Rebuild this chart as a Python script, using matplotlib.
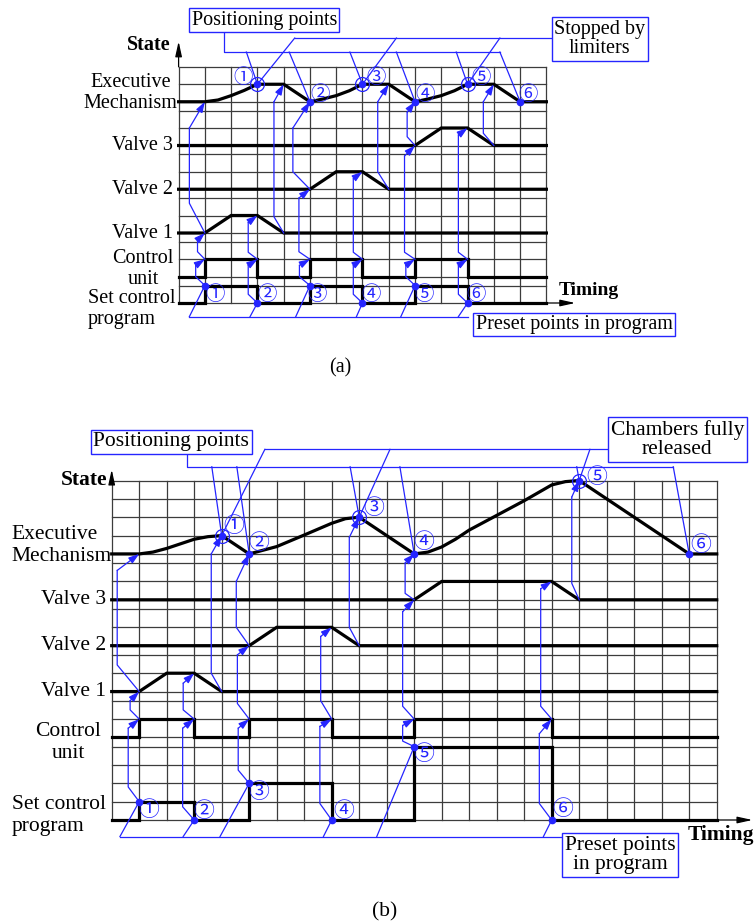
import matplotlib
matplotlib.use('Agg')
import matplotlib.pyplot as plt

plt.rcParams['font.family'] = ['Liberation Serif', 'Noto Sans CJK JP', 'DejaVu Sans']

BLUE = '#2525ff'
GRID = '#3c3c3c'
NUMS = ['\u2460', '\u2461', '\u2462', '\u2463', '\u2464', '\u2465']

# ---------------- panel (a) ----------------
a_ncols = 14
a_rows = [0, 1, 1.5, 2.5, 3.5, 4, 5, 6, 6.5, 7.5, 8.5, 9, 10, 11, 11.5, 12.5, 13.5]

a_exec_x = [0, 1, 1.5, 2, 2.5, 3, 4, 5, 5.5, 6, 6.5, 7, 8, 9, 9.5, 10, 10.5, 11, 12, 13, 14]
a_exec_y = [11.5, 11.5, 11.6, 11.85, 12.15, 12.5, 12.5, 11.5, 11.66, 11.85, 12.13, 12.5, 12.5,
            11.5, 11.66, 11.85, 12.13, 12.5, 12.5, 11.5, 11.5]
a_v3_x = [0, 9, 10, 11, 12, 14]
a_v3_y = [9, 9, 10, 10, 9, 9]
a_v2_x = [0, 5, 6, 7, 8, 14]
a_v2_y = [6.5, 6.5, 7.5, 7.5, 6.5, 6.5]
a_v1_x = [0, 1, 2, 3, 4, 14]
a_v1_y = [4, 4, 5, 5, 4, 4]
a_cu_x = [0, 1, 1, 3, 3, 5, 5, 7, 7, 9, 9, 11, 11, 14]
a_cu_y = [1.5, 1.5, 2.5, 2.5, 1.5, 1.5, 2.5, 2.5, 1.5, 1.5, 2.5, 2.5, 1.5, 1.5]
a_set_x = [0, 1, 1, 3, 3, 5, 5, 7, 7, 9, 9, 11, 11, 14]
a_set_y = [0, 0, 1, 1, 0, 0, 1, 1, 0, 0, 1, 1, 0, 0]

a_pos_x = [3, 5, 7, 9, 11, 13]
a_pos_y = [12.5, 11.5, 12.5, 11.5, 12.5, 11.5]
a_pos_lx = [2.47, 5.37, 7.5, 9.37, 11.5, 13.3]
a_pos_ly = [12.9, 11.9, 12.9, 11.9, 12.9, 11.9]
a_pos_from = [2.58, 4.21, 6.52, 8.29, 10.57, 12.23]
a_lim_from = [4.42, 8.29, 12.23]

a_pre_x = [1, 3, 5, 7, 9, 11]
a_pre_y = [1, 0, 1, 0, 1, 0]
a_pre_lx = [1.38, 3.36, 5.28, 7.33, 9.33, 11.33]
a_pre_ly = [0.5, 0.5, 0.5, 0.5, 0.5, 0.5]
a_pre_from = [0.41, 2.72, 4.46, 6.77, 8.46, 10.65]

a_chains = [
    [(1, 1), (0.65, 1.5), (0.65, 2.15), (1, 2.5)],
    [(1, 2.5), (0.72, 2.93), (0.72, 3.6), (1, 4)],
    [(1, 4), (0.41, 5.7), (0.41, 10), (1, 11.5)],
    [(3, 0), (2.65, 0.5), (2.65, 2.15), (3, 2.5)],
    [(3, 2.5), (2.65, 2.9), (2.65, 4.6), (3, 5)],
    [(4, 4), (3.63, 4.93), (3.63, 11.5), (4, 12.5)],
    [(5, 1), (4.6, 1.5), (4.6, 2.15), (5, 2.5)],
    [(5, 2.5), (4.58, 2.93), (4.58, 6.0), (5, 6.5)],
    [(5, 6.5), (4.35, 7.5), (4.35, 10), (5, 11.5)],
    [(7, 0), (6.65, 0.5), (6.65, 2.15), (7, 2.5)],
    [(7, 2.5), (6.65, 2.9), (6.65, 7.1), (7, 7.5)],
    [(8, 6.5), (7.58, 7.5), (7.58, 11.5), (8, 12.5)],
    [(9, 1), (8.65, 1.5), (8.65, 2.15), (9, 2.5)],
    [(9, 2.5), (8.6, 2.9), (8.6, 8.4), (9, 9)],
    [(9, 9), (8.7, 9.5), (8.7, 10.9), (9, 11.5)],
    [(11, 0), (10.65, 0.5), (10.65, 2.15), (11, 2.5)],
    [(11, 2.5), (10.65, 2.9), (10.65, 9.6), (11, 10)],
    [(12, 9), (11.6, 9.7), (11.6, 11.5), (12, 12.5)],
]

# ---------------- panel (b) ----------------
b_ncols = 22
b_rows = [0, 1, 2, 3, 4, 4.5, 5.5, 6.5, 7, 8, 9, 9.5, 10.5, 11.5, 12, 13, 14, 14.5,
          15.5, 16.5, 17.5, 18.5]

b_exec_x = [0, 1, 1.5, 2, 3, 3.5, 4, 5, 6, 7, 8, 8.5, 9, 11, 11.5, 12, 12.5, 13, 14, 15, 16,
            16.5, 17, 21, 22]
b_exec_y = [14.5, 14.5, 14.6, 14.8, 15.3, 15.44, 15.5, 14.5, 14.9, 15.53, 16.17, 16.42, 16.5,
            14.5, 14.6, 14.88, 15.3, 15.8, 16.6, 17.4, 18.26, 18.44, 18.5, 14.5, 14.5]
b_v3_x = [0, 11, 12, 16, 17, 22]
b_v3_y = [12, 12, 13, 13, 12, 12]
b_v2_x = [0, 5, 6, 8, 9, 22]
b_v2_y = [9.5, 9.5, 10.5, 10.5, 9.5, 9.5]
b_v1_x = [0, 1, 2, 3, 4, 22]
b_v1_y = [7, 7, 8, 8, 7, 7]
b_cu_x = [0, 1, 1, 3, 3, 5, 5, 8, 8, 11, 11, 16, 16, 22]
b_cu_y = [4.5, 4.5, 5.5, 5.5, 4.5, 4.5, 5.5, 5.5, 4.5, 4.5, 5.5, 5.5, 4.5, 4.5]
b_set_x = [0, 1, 1, 3, 3, 5, 5, 8, 8, 11, 11, 16, 16, 22]
b_set_y = [0, 0, 1, 1, 0, 0, 2, 2, 0, 0, 4, 4, 0, 0]

b_pos_x = [4, 5, 9, 11, 17, 21]
b_pos_y = [15.5, 14.5, 16.5, 14.5, 18.5, 14.5]
b_pos_lx = [4.45, 5.36, 9.52, 11.34, 17.64, 21.42]
b_pos_ly = [15.95, 15.04, 16.93, 15.08, 18.62, 14.95]
b_pos_from = [3.64, 4.55, 8.67, 10.48, 16.91, 20.42]
b_lim_from = [5.57, 10.12, 17.39]

b_pre_x = [1, 3, 5, 8, 11, 16]
b_pre_y = [1, 0, 2, 0, 4, 0]
b_pre_lx = [1.34, 3.36, 5.36, 8.45, 11.36, 16.39]
b_pre_ly = [0.51, 0.42, 1.49, 0.45, 3.54, 0.54]
b_pre_from = [0.3, 2.6, 3.94, 7.7, 9.64, 15.7]

b_chains = [
    [(1, 1), (0.6, 1.8), (0.6, 5.0), (1, 5.5)],
    [(1, 5.5), (0.67, 6.0), (0.67, 6.5), (1, 7)],
    [(1, 7), (0.2, 8.45), (0.2, 13.6), (1, 14.5)],
    [(3, 0), (2.58, 0.72), (2.58, 5.0), (3, 5.5)],
    [(3, 5.5), (2.6, 6.0), (2.6, 7.45), (3, 8)],
    [(4, 7), (3.62, 8.0), (3.62, 14.5), (4, 15.5)],
    [(5, 2), (4.6, 2.72), (4.6, 5.0), (5, 5.5)],
    [(5, 5.5), (4.57, 6.35), (4.57, 9.0), (5, 9.5)],
    [(5, 9.5), (4.53, 10.5), (4.53, 13.0), (5, 14.5)],
    [(8, 0), (7.57, 0.9), (7.57, 5.1), (8, 5.5)],
    [(8, 5.5), (7.6, 6.5), (7.6, 10.0), (8, 10.5)],
    [(9, 9.5), (8.64, 10.5), (8.64, 15.4), (9, 16.5)],
    [(11, 4), (10.58, 4.3), (10.58, 5.15), (11, 5.5)],
    [(11, 5.5), (10.58, 6.2), (10.58, 11.35), (11, 12)],
    [(11, 12), (10.67, 12.35), (10.67, 14.0), (11, 14.5)],
    [(16, 0), (15.55, 0.9), (15.55, 4.7), (16, 5.5)],
    [(16, 5.5), (15.6, 6.2), (15.6, 12.6), (16, 13)],
    [(17, 12), (16.73, 12.9), (16.73, 17.6), (17, 18.5)],
]


def grid(ax, ncols, rows):
    top = rows[-1]
    for c in range(ncols + 1):
        ax.plot([c, c], [0, top], color=GRID, lw=0.9, zorder=1)
    for r in rows:
        ax.plot([0, ncols], [r, r], color=GRID, lw=0.9, zorder=1)


def trace(ax, xs, ys):
    ax.plot(xs, ys, color='black', lw=2.3, zorder=3, solid_joinstyle='miter')


def chain(ax, pts):
    xs = [p[0] for p in pts]
    ys = [p[1] for p in pts]
    ax.plot(xs[:-1], ys[:-1], color=BLUE, lw=0.9, zorder=4)
    ax.annotate('', xy=pts[-1], xytext=pts[-2], zorder=4,
                arrowprops=dict(arrowstyle='-|>,head_length=0.9,head_width=0.3',
                                mutation_scale=7, color=BLUE, lw=0.9,
                                shrinkA=0, shrinkB=0))


def arrow(ax, start, end):
    ax.annotate('', xy=end, xytext=start,
                arrowprops=dict(arrowstyle='-|>,head_length=1.0,head_width=0.22',
                                mutation_scale=9, color='black', lw=0.9,
                                shrinkA=0, shrinkB=0))


def box(ax, x, y, s, fs):
    ax.text(x, y, s, ha='center', va='center', fontsize=fs, zorder=6,
            linespacing=1.05,
            bbox=dict(boxstyle='square,pad=0.12', fc='white', ec=BLUE, lw=1.0))


def points(ax, xs, ys, lx, ly, rings, fs):
    ax.plot(xs, ys, 'o', color=BLUE, ms=4.5, zorder=5)
    for i in rings:
        ax.plot(xs[i], ys[i], 'o', mfc='none', mec=BLUE, ms=10, mew=0.9, zorder=5)
    for i in range(len(xs)):
        ax.text(lx[i], ly[i], NUMS[i], color=BLUE, fontsize=fs, ha='center',
                va='center', zorder=5)


fig = plt.figure(figsize=(7.56, 9.24), dpi=100)

# ---------- (a) ----------
ax = fig.add_axes([0, 539 / 924, 1, 385 / 924])
ax.set_xlim(-178.6 / 26.27, (756 - 178.6) / 26.27)
ax.set_ylim((303 - 385) / 17.5, 303 / 17.5)
ax.axis('off')

grid(ax, a_ncols, a_rows)
for xs, ys in [(a_exec_x, a_exec_y), (a_v3_x, a_v3_y), (a_v2_x, a_v2_y),
               (a_v1_x, a_v1_y), (a_cu_x, a_cu_y), (a_set_x, a_set_y)]:
    trace(ax, xs, ys)
arrow(ax, (a_ncols, 0), (15.1, 0))
arrow(ax, (0, a_rows[-1]), (0, 14.95))
for c in a_chains:
    chain(ax, c)

# callouts
ax.plot([1.71, 1.71, 12.23], [15.49, 14.34, 14.34], color=BLUE, lw=0.9, zorder=4)
for fx, px, py in zip(a_pos_from, a_pos_x, a_pos_y):
    ax.plot([fx, px], [14.34, py], color=BLUE, lw=0.9, zorder=4)
ax.plot([4.42, 14.27], [15.14, 15.14], color=BLUE, lw=0.9, zorder=4)
for fx, i in zip(a_lim_from, [0, 2, 4]):
    ax.plot([fx, a_pos_x[i]], [15.14, a_pos_y[i]], color=BLUE, lw=0.9, zorder=4)
ax.plot([0.41, 11], [-0.78, -0.78], color=BLUE, lw=0.9, zorder=4)
for fx, px, py in zip(a_pre_from, a_pre_x, a_pre_y):
    ax.plot([fx, px], [-0.78, py], color=BLUE, lw=0.9, zorder=4)

points(ax, a_pos_x, a_pos_y, a_pos_lx, a_pos_ly, [0, 2, 4], 14)
points(ax, a_pre_x, a_pre_y, a_pre_lx, a_pre_ly, [], 14)

box(ax, 3.26, 16.17, 'Positioning points', 14.5)
box(ax, 16.03, 15.09, 'Stopped by\nlimiters', 14.5)
box(ax, 15.05, -1.23, 'Preset points in program', 14.5)

ax.text(-0.05, 12.0, 'Executive\nMechanism', ha='right', va='center', fontsize=14.5,
        multialignment='center')
ax.text(-0.2, 9, 'Valve 3', ha='right', va='center', fontsize=14.5)
ax.text(-0.2, 6.5, 'Valve 2', ha='right', va='center', fontsize=14.5)
ax.text(-0.2, 4, 'Valve 1', ha='right', va='center', fontsize=14.5)
ax.text(-1.35, 1.94, 'Control\nunit', ha='center', va='center', fontsize=14.5)
ax.text(-3.45, -0.34, 'Set control\nprogram', ha='left', va='center', fontsize=14.5)
ax.text(-0.3, 14.74, 'State', ha='right', va='center', fontsize=14.5, fontweight='bold')
ax.text(15.6, 0.74, 'Timing', ha='center', va='center', fontsize=14, fontweight='bold')
ax.text(6.14, -3.71, '(a)', ha='center', va='center', fontsize=14.5)

# ---------- (b) ----------
ax = fig.add_axes([0, 0, 1, 539 / 924])
ax.set_xlim(-111.7 / 27.5, (756 - 111.7) / 27.5)
ax.set_ylim((820 - 924) / 18.35, (820 - 385) / 18.35)
ax.axis('off')

grid(ax, b_ncols, b_rows)
for xs, ys in [(b_exec_x, b_exec_y), (b_v3_x, b_v3_y), (b_v2_x, b_v2_y),
               (b_v1_x, b_v1_y), (b_cu_x, b_cu_y), (b_set_x, b_set_y)]:
    trace(ax, xs, ys)
arrow(ax, (b_ncols, 0), (23.3, 0))
arrow(ax, (0, b_rows[-1]), (0, 19.1))
for c in b_chains:
    chain(ax, c)

ax.plot([2.73, 2.73, 20.42], [19.98, 19.25, 19.25], color=BLUE, lw=0.9, zorder=4)
for fx, px, py in zip(b_pos_from, b_pos_x, b_pos_y):
    ax.plot([fx, px], [19.25, py], color=BLUE, lw=0.9, zorder=4)
ax.plot([5.57, 18.12], [20.2, 20.2], color=BLUE, lw=0.9, zorder=4)
for fx, i in zip(b_lim_from, [0, 2, 4]):
    ax.plot([fx, b_pos_x[i]], [20.2, b_pos_y[i]], color=BLUE, lw=0.9, zorder=4)
ax.plot([0.3, 16.46], [-0.9, -0.9], color=BLUE, lw=0.9, zorder=4)
for fx, px, py in zip(b_pre_from, b_pre_x, b_pre_y):
    ax.plot([fx, px], [-0.9, py], color=BLUE, lw=0.9, zorder=4)

points(ax, b_pos_x, b_pos_y, b_pos_lx, b_pos_ly, [0, 2, 4], 15)
points(ax, b_pre_x, b_pre_y, b_pre_lx, b_pre_ly, [], 15)

box(ax, 2.16, 20.62, 'Positioning points', 15.5)
box(ax, 20.57, 20.74, 'Chambers fully\nreleased', 15.5)
box(ax, 18.48, -1.91, 'Preset points\nin program', 15.5)

ax.text(-3.66, 14.96, 'Executive\nMechanism', ha='left', va='center', fontsize=15.5)
ax.text(-0.2, 12, 'Valve 3', ha='right', va='center', fontsize=15.5)
ax.text(-0.2, 9.5, 'Valve 2', ha='right', va='center', fontsize=15.5)
ax.text(-0.2, 7, 'Valve 1', ha='right', va='center', fontsize=15.5)
ax.text(-1.59, 4.22, 'Control\nunit', ha='center', va='center', fontsize=15.5)
ax.text(-3.63, 0.25, 'Set control\nprogram', ha='left', va='center', fontsize=15.5)
ax.text(-0.15, 18.53, 'State', ha='right', va='center', fontsize=15.5, fontweight='bold')
ax.text(22.16, -0.82, 'Timing', ha='center', va='center', fontsize=15.5, fontweight='bold')
ax.text(9.94, -5.01, '(b)', ha='center', va='center', fontsize=15.5)

fig.savefig('out.png', dpi=100)
